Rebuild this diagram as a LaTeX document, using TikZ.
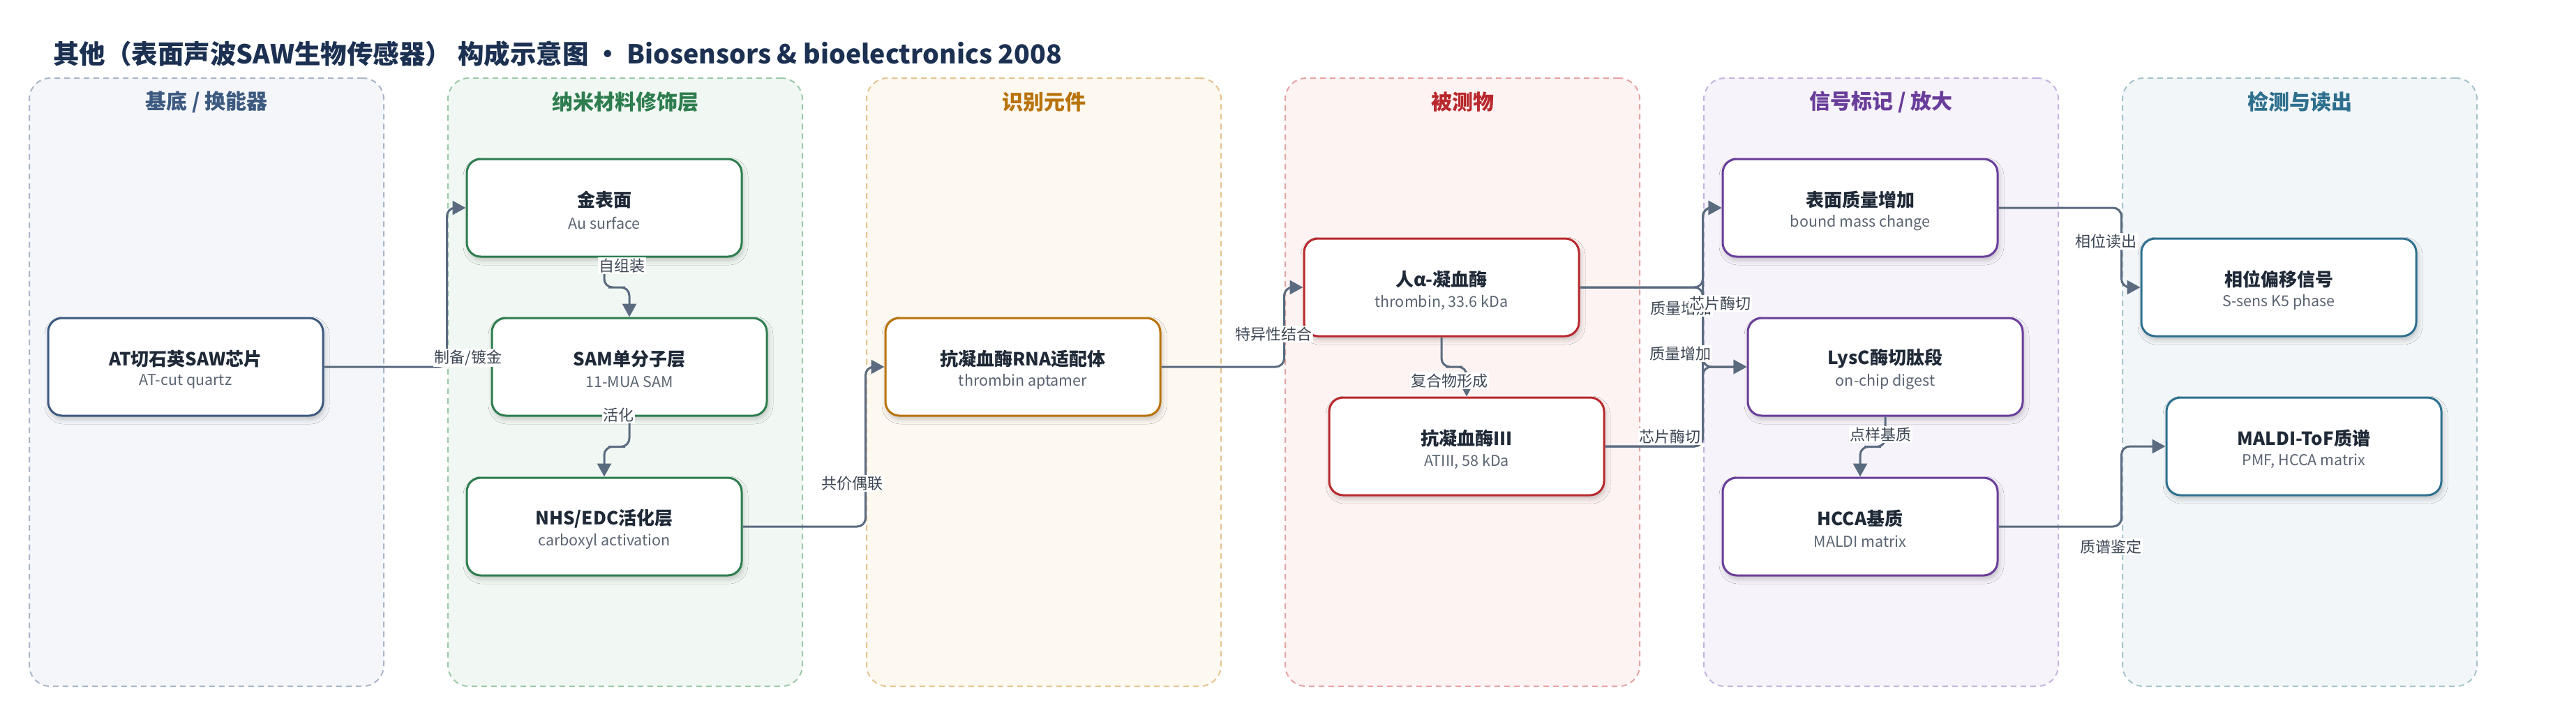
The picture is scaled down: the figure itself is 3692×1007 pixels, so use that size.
\documentclass[tikz,border=0pt]{standalone}
\usepackage{fontspec}
\setmainfont{Noto Sans CJK SC}
\usetikzlibrary{arrows.meta,calc,shadows.blur}
\definecolor{ttlc}{HTML}{1C3152}
\definecolor{txt}{HTML}{1F2937}
\definecolor{subc}{HTML}{5B6472}
\definecolor{edgec}{HTML}{5A6B80}
\definecolor{elabc}{HTML}{3D4654}
\definecolor{laAf}{HTML}{F4F6FA}\definecolor{laAd}{HTML}{A9B6C9}\definecolor{laAc}{HTML}{3D5A80}
\definecolor{laBf}{HTML}{F1F8F3}\definecolor{laBd}{HTML}{9CC9A8}\definecolor{laBc}{HTML}{2E7D4F}
\definecolor{laCf}{HTML}{FDF8F0}\definecolor{laCd}{HTML}{E6C48F}\definecolor{laCc}{HTML}{B8730A}
\definecolor{laDf}{HTML}{FDF3F2}\definecolor{laDd}{HTML}{E6A3A3}\definecolor{laDc}{HTML}{B8282D}
\definecolor{laEf}{HTML}{F6F3FA}\definecolor{laEd}{HTML}{C6B3E0}\definecolor{laEc}{HTML}{6A3D9A}
\definecolor{laFf}{HTML}{F2F6F8}\definecolor{laFd}{HTML}{A6C3CC}\definecolor{laFc}{HTML}{2E6F8E}
\newcommand\mkbox[6]{%
  \node[box, draw=#4] (#1) at (#2,#3) {};
  \node[ttl] (#1t) at ($(#1.center)+(0,-11.5)$) {#5};
  \node[sub] (#1s) at ($(#1.center)+(0,21.5)$) {#6};}
\newcommand\mklane[6]{%
  \node[lane, fill=#3, draw=#4] (#1) at (#2,548) {};
  \node[lhead, text=#5] (#1h) at (#2,146) {#6};}
\begin{document}
\begin{tikzpicture}[x=1pt,y=-1pt,
  lane/.style={rectangle, rounded corners=30pt, minimum width=508pt, minimum height=872pt,
    line width=2pt, dash pattern=on 8pt off 6pt, inner sep=0pt},
  lhead/.style={font=\fontsize{30pt}{34pt}\selectfont\bfseries, inner sep=0pt},
  box/.style={rectangle, rounded corners=20pt, minimum width=394pt, minimum height=140pt,
    fill=white, line width=3pt, inner sep=0pt,
    blur shadow={shadow xshift=2pt, shadow yshift=-5pt, shadow blur radius=7pt, shadow opacity=22}},
  ttl/.style={font=\fontsize{26pt}{30pt}\selectfont\bfseries, text=txt, inner sep=0pt},
  sub/.style={font=\fontsize{21.5pt}{25pt}\selectfont, text=subc, inner sep=0pt},
  edge/.style={draw=edgec, line width=3pt, rounded corners=12pt,
    -{Triangle[length=19pt, width=20pt]}},
  elab/.style={font=\fontsize{22pt}{26pt}\selectfont, text=elabc, fill=white, inner sep=1.5pt}]
\useasboundingbox (0,0) rectangle (3692,1007);
\fill[white] (0,0) rectangle (3692,1007);
\node[anchor=west, font=\fontsize{37.5pt}{43pt}\selectfont\bfseries, text=ttlc, inner sep=0pt] (title) at (76,77)
  {其他（表面声波SAW生物传感器） 构成示意图 · Biosensors \& bioelectronics 2008};
\mklane{lA}{296}{laAf}{laAd}{laAc}{基底 / 换能器}
\mklane{lB}{896}{laBf}{laBd}{laBc}{纳米材料修饰层}
\mklane{lC}{1496}{laCf}{laCd}{laCc}{识别元件}
\mklane{lD}{2096}{laDf}{laDd}{laDc}{被测物}
\mklane{lE}{2696}{laEf}{laEd}{laEc}{信号标记 / 放大}
\mklane{lF}{3296}{laFf}{laFd}{laFc}{检测与读出}
\mkbox{at}{266}{526}{laAc}{AT切石英SAW芯片}{AT-cut quartz}
\mkbox{jin}{866}{298}{laBc}{金表面}{Au surface}
\mkbox{sam}{902}{526}{laBc}{SAM单分子层}{11-MUA SAM}
\mkbox{nhs}{866}{755}{laBc}{NHS/EDC活化层}{carboxyl activation}
\mkbox{apt}{1466}{526}{laCc}{抗凝血酶RNA适配体}{thrombin aptamer}
\mkbox{thr}{2066}{412}{laDc}{人α-凝血酶}{thrombin, 33.6 kDa}
\mkbox{atiii}{2102}{640}{laDc}{抗凝血酶III}{ATIII, 58 kDa}
\mkbox{mass}{2666}{298}{laEc}{表面质量增加}{bound mass change}
\mkbox{lys}{2702}{526}{laEc}{LysC酶切肽段}{on-chip digest}
\mkbox{hcca}{2666}{755}{laEc}{HCCA基质}{MALDI matrix}
\mkbox{phase}{3266}{412}{laFc}{相位偏移信号}{S-sens K5 phase}
\mkbox{maldi}{3302}{640}{laFc}{MALDI-ToF质谱}{PMF, HCCA matrix}
% connectors
\draw[edge] (at.east) -| ($(jin.west)+(-27,0)$) -- (jin.west);
\draw[edge] (jin.south) |- ($(jin.south)!.5!(sam.north)$) -| (sam.north);
\draw[edge] (sam.south) |- ($(sam.south)!.5!(nhs.north)$) -| (nhs.north);
\draw[edge] (nhs.east) -| ($(apt.west)+(-27,0)$) -- (apt.west);
\draw[edge] (apt.east) -| ($(thr.west)+(-27,0)$) -- (thr.west);
\draw[edge] (thr.south) |- ($(thr.south)!.5!(atiii.north)$) -| (atiii.north);
\draw[edge] (thr.east) -| ($(mass.west)+(-27,0)$) -- (mass.west);
\draw[edge] (thr.east) -| ($(lys.west)+(-63,0)$) -- (lys.west);
\draw[edge] (atiii.east) -| ($(mass.west)+(-27,0)$) -- (mass.west);
\draw[edge] (atiii.east) -| ($(lys.west)+(-63,0)$) -- (lys.west);
\draw[edge] (lys.south) |- ($(lys.south)!.5!(hcca.north)$) -| (hcca.north);
\draw[edge] (mass.east) -| ($(phase.west)+(-27,0)$) -- (phase.west);
\draw[edge] (hcca.east) -| ($(maldi.west)+(-63,0)$) -- (maldi.west);
% connector labels
\node[elab] (e1) at (671,513) {制备/镀金};
\node[elab] (e2) at (891,381) {自组装};
\node[elab] (e3) at (886,595) {活化};
\node[elab] (e4) at (1221,693) {共价偶联};
\node[elab] (e5) at (1825,479) {特异性结合};
\node[elab] (e6) at (2077,546) {复合物形成};
\node[elab] (e7) at (2409,442) {质量增加};
\node[elab] (e8) at (2465,435) {芯片酶切};
\node[elab] (e9) at (2408,507) {质量增加};
\node[elab] (e10) at (2393,626) {芯片酶切};
\node[elab] (e11) at (2695,623) {点样基质};
\node[elab] (e12) at (3018,346) {相位读出};
\node[elab] (e13) at (3025,784) {质谱鉴定};
\end{tikzpicture}
\end{document}
